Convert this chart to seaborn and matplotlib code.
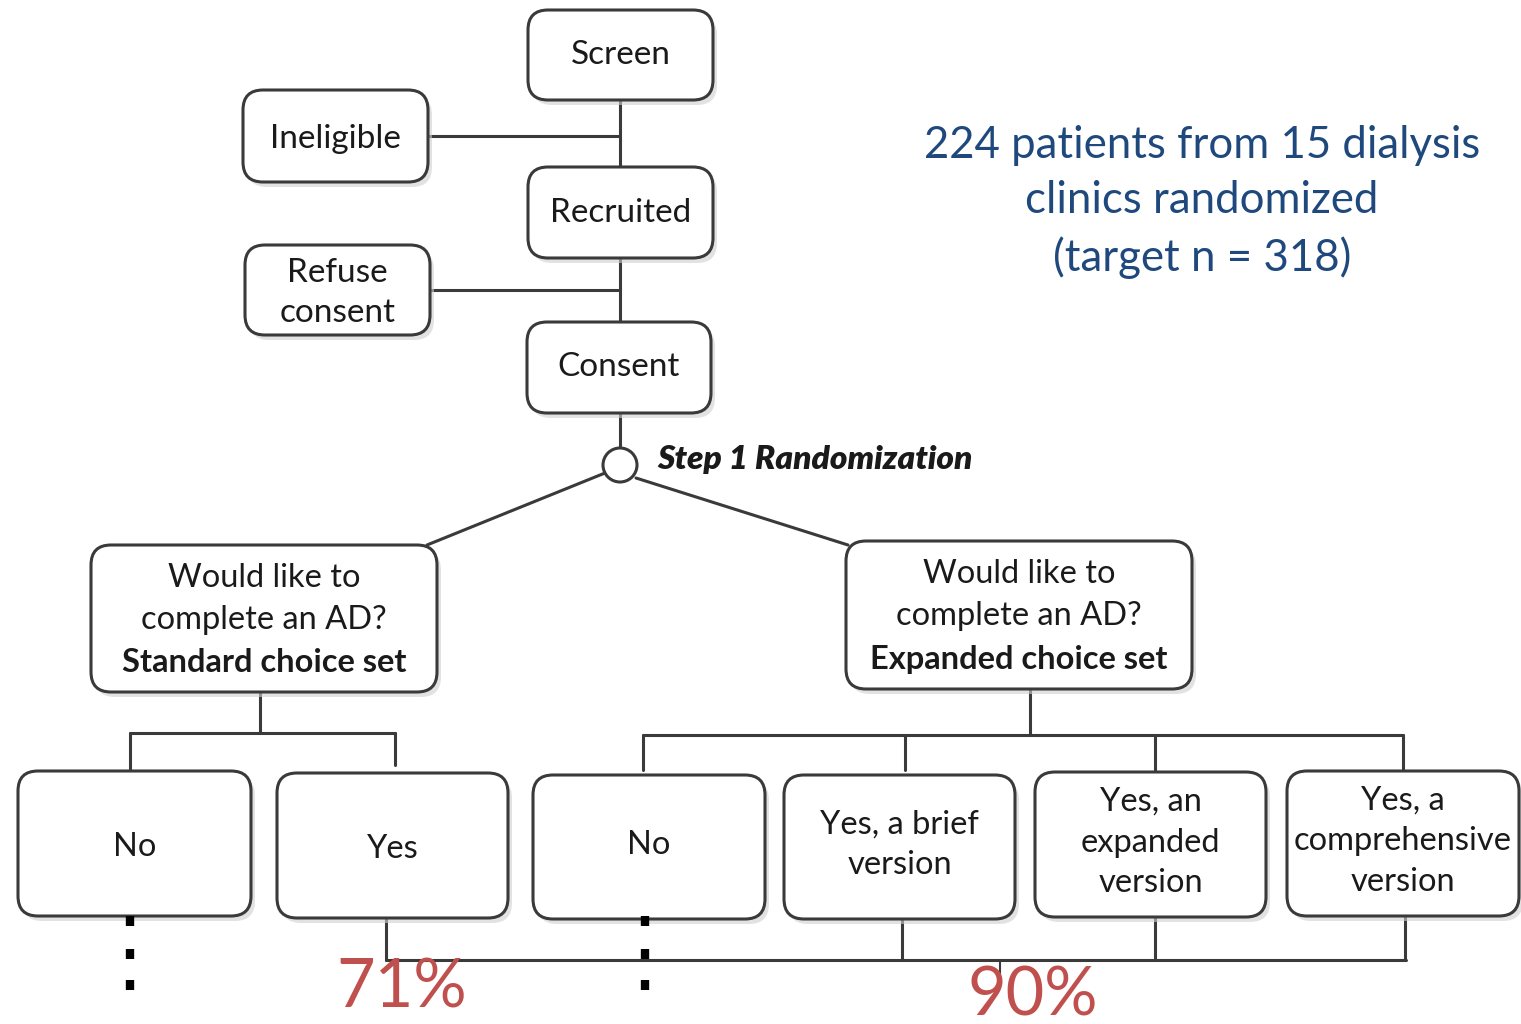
import matplotlib.pyplot as plt
import seaborn as sns
from matplotlib.patches import FancyBboxPatch, Circle

# Flow chart labels
top_labels = ['Screen', 'Recruited', 'Consent']
side_labels = ['Ineligible', 'Refuse\nconsent']
arm_question = 'Would like to\ncomplete an AD?'
arm_labels = ['Standard choice set', 'Expanded choice set']
standard_answers = ['No', 'Yes']
expanded_answers = ['No', 'Yes, a brief\nversion', 'Yes, an\nexpanded\nversion', 'Yes, a\ncomprehensive\nversion']
pct_labels = ['71%', '90%']
step_label = 'Step 1 Randomization'
summary_text = '224 patients from 15 dialysis\nclinics randomized\n(target n = 318)'

# layout in pixel coords (x0, y0, x1, y1)
top_boxes = [(528, 10, 713, 100), (528, 167, 713, 258), (527, 322, 711, 413)]
side_boxes = [(243, 90, 428, 182), (245, 245, 430, 335)]
arm_boxes = [(91, 545, 437, 692), (846, 541, 1192, 689)]
std_boxes = [(18, 771, 251, 916), (277, 773, 508, 918)]
exp_boxes = [(533, 775, 765, 919), (784, 775, 1015, 919), (1035, 772, 1266, 917), (1287, 771, 1519, 916)]

LINE = '#3a3a3a'
RED = '#C0504D'
BLUE = '#1F497D'

sns.set_theme(style='white')
plt.rcParams['font.family'] = ['Lato', 'DejaVu Sans']

fig = plt.figure(figsize=(15.21, 10.24), dpi=100)
ax = fig.add_axes([0, 0, 1, 1])
ax.set_xlim(0, 1521)
ax.set_ylim(1024, 0)
ax.axis('off')


def box(b, label, size=24, dy=0):
    x0, y0, x1, y1 = b
    sh = FancyBboxPatch((x0 + 4, y0 + 5), x1 - x0, y1 - y0,
                        boxstyle='round,pad=0,rounding_size=20',
                        fc='#d0d0d0', ec='none', alpha=0.6, zorder=1)
    ax.add_patch(sh)
    p = FancyBboxPatch((x0, y0), x1 - x0, y1 - y0,
                       boxstyle='round,pad=0,rounding_size=20',
                       fc='white', ec=LINE, lw=2.2, zorder=2)
    ax.add_patch(p)
    if label is not None:
        ax.text((x0 + x1) / 2, (y0 + y1) / 2 + dy, label, ha='center', va='center',
                fontsize=size, color='#1a1a1a', linespacing=1.45, zorder=3)


def seg(xs, ys, lw=2.2):
    sns.lineplot(x=xs, y=ys, ax=ax, color=LINE, lw=lw, sort=False,
                 estimator=None, zorder=0.5)


for b, lab in zip(top_boxes, top_labels):
    box(b, lab)
for b, lab in zip(side_boxes, side_labels):
    box(b, lab, dy=3)

# question boxes with bold last line
for b, lab in zip(arm_boxes, arm_labels):
    box(b, None)
    x0, y0, x1, y1 = b
    cx = (x0 + x1) / 2
    ax.text(cx, y0 + 54, arm_question, ha='center', va='center', fontsize=23.5,
            color='#1a1a1a', linespacing=1.48, zorder=3)
    ax.text(cx, y0 + 118, lab, ha='center', va='center', fontsize=23.5,
            fontweight='bold', color='#1a1a1a', zorder=3)

for b, lab in zip(std_boxes, standard_answers):
    box(b, lab, size=23.5, dy=3)
for b, lab in zip(exp_boxes, expanded_answers):
    box(b, lab, size=23.5, dy=-2)

# top spine
seg([620, 620], [100, 167])
seg([428, 620], [136, 136])
seg([620, 620], [258, 322])
seg([430, 618], [290, 290])
seg([620, 620], [413, 448])

# randomization node
ax.add_patch(Circle((620, 465), 17, fc='white', ec=LINE, lw=2.2, zorder=3))
seg([605, 427], [473, 545])
seg([636, 848], [478, 545])
ax.text(657, 460, step_label, ha='left', va='center', fontsize=24,
        fontweight='heavy', fontstyle='italic', color='#1a1a1a')

# standard arm branches
seg([260, 260], [692, 733])
seg([130, 395], [733, 733])
seg([130, 130], [733, 771])
seg([395, 395], [733, 765])

# expanded arm branches
seg([1030, 1030], [689, 735])
seg([643, 1403], [735, 735])
for x in [643, 905, 1155, 1403]:
    seg([x, x], [735, 770])

# yes bracket at bottom
seg([386, 386], [918, 960])
seg([386, 1406], [960, 960])
for x, y in [(902, 919), (1155, 917), (1405, 916)]:
    seg([x, x], [y, 960])
seg([1000, 1000], [960, 975], lw=1.5)

# dotted continuation below "No"
for x in [130, 645]:
    for y in [921, 954, 985]:
        ax.plot([x, x], [y - 5, y + 5], color='black', lw=6, solid_capstyle='butt', zorder=4)

ax.text(402, 989, pct_labels[0], ha='center', va='center', fontsize=48, color=RED)
ax.text(1033, 996, pct_labels[1], ha='center', va='center', fontsize=48, color=RED)

ax.text(1202, 202, summary_text, ha='center', va='center', fontsize=31.5,
        color=BLUE, linespacing=1.44)

fig.savefig('out.png', dpi=100)
